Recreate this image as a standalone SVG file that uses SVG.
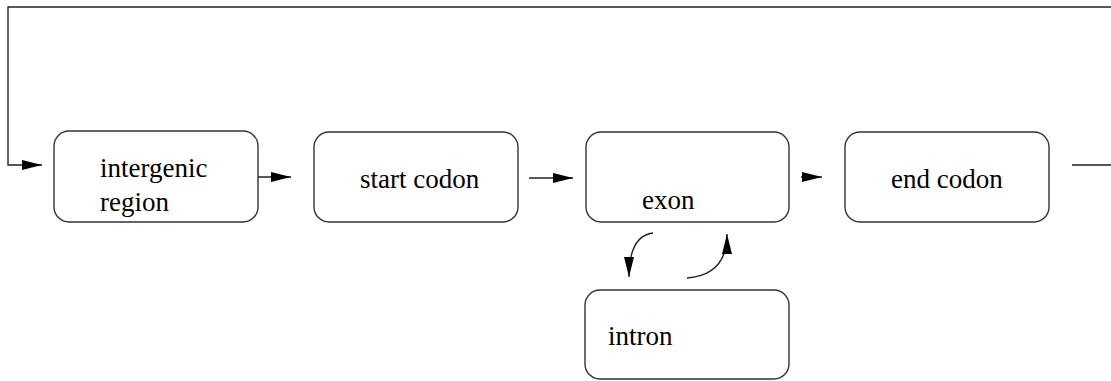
<svg xmlns="http://www.w3.org/2000/svg" width="1111" height="381" viewBox="0 0 1111 381">
<defs>
<marker id="ah" markerUnits="userSpaceOnUse" markerWidth="20" markerHeight="10" refX="20" refY="5" orient="auto">
<path d="M0,0 L20,5 L0,10 z" fill="#000"/>
</marker>
<style>
.box{fill:#fff;stroke:#333;stroke-width:1.4}
.lbl{font-family:'Liberation Serif',serif;font-size:27px;fill:#000}
.c{fill:none;stroke:#222;stroke-width:1.4}
</style>
</defs>
<rect width="1111" height="381" fill="#fff"/>
<g id="connectors">
<path class="c" d="M1072,165 L1116,165 L1116,7 L8,7 L8,165 L42,165" marker-end="url(#ah)"/>
<path class="c" d="M258,177 L291,177" marker-end="url(#ah)"/>
<path class="c" d="M529,178 L573,178" marker-end="url(#ah)"/>
<path class="c" d="M801,177 L822,177" marker-end="url(#ah)"/>
<path class="c" d="M653,233 Q629,236 629,277" marker-end="url(#ah)"/>
<path class="c" d="M687,278 Q727,275 727,234" marker-end="url(#ah)"/>
</g>
<g id="intergenic">
<rect class="box" x="54" y="131" width="204" height="91" rx="15"/>
<text class="lbl" x="100" y="177">intergenic</text>
<text class="lbl" x="100" y="211">region</text>
</g>
<g id="start">
<rect class="box" x="314" y="132" width="204" height="90" rx="15"/>
<text class="lbl" x="360" y="188">start codon</text>
</g>
<g id="exon">
<rect class="box" x="586" y="132" width="203" height="90" rx="15"/>
<text class="lbl" x="642" y="209">exon</text>
</g>
<g id="end">
<rect class="box" x="845" y="132" width="204" height="90" rx="15"/>
<text class="lbl" x="891" y="188">end codon</text>
</g>
<g id="intron">
<rect class="box" x="585" y="290" width="204" height="89" rx="15"/>
<text class="lbl" x="608" y="345">intron</text>
</g>
</svg>
